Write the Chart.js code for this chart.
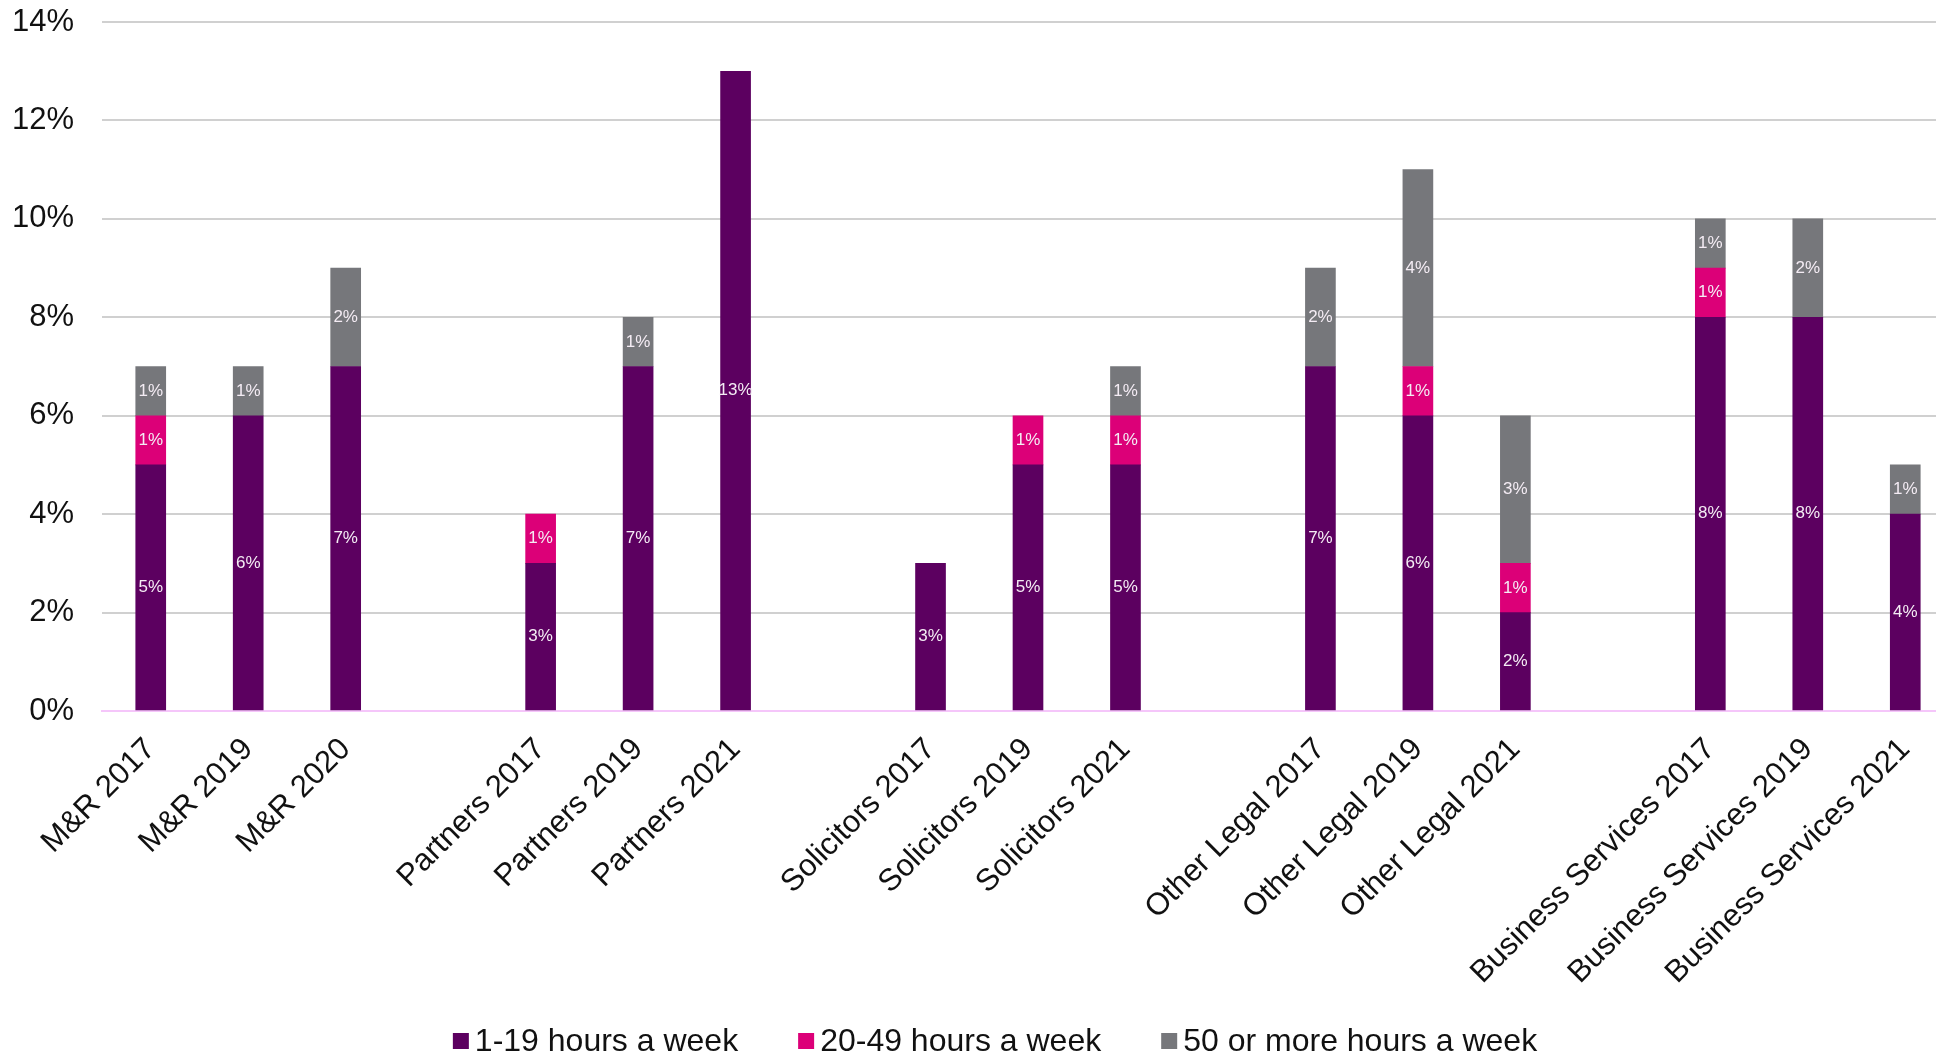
<!DOCTYPE html>
<html>
<head>
<meta charset="utf-8">
<title>Hours a week</title>
<script src="https://cdn.jsdelivr.net/npm/chart.js@4.4.1/dist/chart.umd.min.js"></script>
<style>
  html, body { margin: 0; padding: 0; background: #fff; overflow: hidden; }
  #wrap { width: 1990px; height: 1057px; }
</style>
</head>
<body>
<div id="wrap"><canvas id="hoursChart" width="1990" height="1057"></canvas></div>
<script>
// categories (empty strings are the gaps between groups)
const categories = [
    "M&R 2017", "M&R 2019", "M&R 2020", "",
    "Partners 2017", "Partners 2019", "Partners 2021", "",
    "Solicitors 2017", "Solicitors 2019", "Solicitors 2021", "",
    "Other Legal 2017", "Other Legal 2019", "Other Legal 2021", "",
    "Business Services 2017", "Business Services 2019", "Business Services 2021"
];
const seriesNames = ["1-19 hours a week", "20-49 hours a week", "50 or more hours a week"];
const hours1to19 =  [5, 6, 7, null, 3, 7, 13, null, 3, 5, 5, null, 7, 6, 2, null, 8, 8, 4];
const hours20to49 = [1, null, null, null, 1, null, null, null, null, 1, 1, null, null, 1, 1, null, 1, null, null];
const hours50plus = [1, 1, 2, null, null, 1, null, null, null, null, 1, null, 2, 4, 3, null, 1, 2, 1];
const yTicks = [0, 2, 4, 6, 8, 10, 12, 14];

const colors = ["#5c0060", "#dc0078", "#76777b"];
const FONT = "'Liberation Sans', Arial, sans-serif";

// white % labels in the middle of each segment
const segmentLabels = {
    id: "segmentLabels",
    afterDatasetsDraw(chart) {
        const ctx = chart.ctx;
        ctx.save();
        ctx.font = "17px " + FONT;
        ctx.fillStyle = "#f4ecf4";
        ctx.textAlign = "center";
        ctx.textBaseline = "middle";
        chart.data.datasets.forEach((ds, i) => {
            chart.getDatasetMeta(i).data.forEach((bar, j) => {
                const v = ds.data[j];
                if (v === null || v === undefined) return;
                const p = bar.getCenterPoint();
                ctx.fillText(v + "%", p.x, p.y);
            });
        });
        ctx.restore();
    }
};

// legend row along the bottom
const bottomLegend = {
    id: "bottomLegend",
    afterDraw(chart) {
        const ctx = chart.ctx;
        const box = 16, gap = 6, spacing = 60, y = 1041;
        ctx.save();
        ctx.font = "32px " + FONT;
        ctx.textBaseline = "middle";
        const widths = chart.data.datasets.map(ds => box + gap + ctx.measureText(ds.label).width);
        const total = widths.reduce((a, b) => a + b, 0) + spacing * (widths.length - 1);
        let x = chart.width / 2 - total / 2;
        chart.data.datasets.forEach((ds, i) => {
            ctx.fillStyle = ds.backgroundColor;
            ctx.fillRect(x, y - box / 2, box, box);
            ctx.fillStyle = "#111";
            ctx.fillText(ds.label, x + box + gap, y + 1);
            x += widths[i] + spacing;
        });
        ctx.restore();
    }
};

new Chart(document.getElementById("hoursChart").getContext("2d"), {
    type: "bar",
    data: {
        labels: categories,
        datasets: [
            { label: seriesNames[0], data: hours1to19, backgroundColor: colors[0] },
            { label: seriesNames[1], data: hours20to49, backgroundColor: colors[1] },
            { label: seriesNames[2], data: hours50plus, backgroundColor: colors[2] }
        ]
    },
    options: {
        responsive: false,
        animation: false,
        layout: { padding: { top: 0, right: 36, left: 0, bottom: 0 } },
        datasets: { bar: { barThickness: 30 } },
        plugins: {
            legend: { display: false },
            tooltip: { enabled: false }
        },
        scales: {
            x: {
                stacked: true,
                grid: { display: false },
                border: { color: "#f5c6fa", width: 2 },
                ticks: {
                    color: "#111",
                    font: { family: FONT, size: 31 },
                    minRotation: 45,
                    maxRotation: 45,
                    autoSkip: false,
                    padding: 12
                },
                afterFit(scale) { scale.height = 346; }
            },
            y: {
                stacked: true,
                min: 0,
                max: 14,
                afterBuildTicks(scale) { scale.ticks = yTicks.map(v => ({ value: v })); },
                border: { display: false },
                grid: {
                    color: ctx => ctx.tick && ctx.tick.value === 0 ? "#f5c6fa" : "#d0d0d0",
                    lineWidth: 2,
                    drawTicks: false
                },
                ticks: {
                    color: "#111",
                    font: { family: FONT, size: 31 },
                    padding: 28,
                    callback: v => v + "%"
                },
                afterFit(scale) {
                    scale.width = 102;
                    scale.paddingTop = 22;
                    scale.paddingBottom = 0;
                }
            }
        }
    },
    plugins: [segmentLabels, bottomLegend]
});
</script>
</body>
</html>
